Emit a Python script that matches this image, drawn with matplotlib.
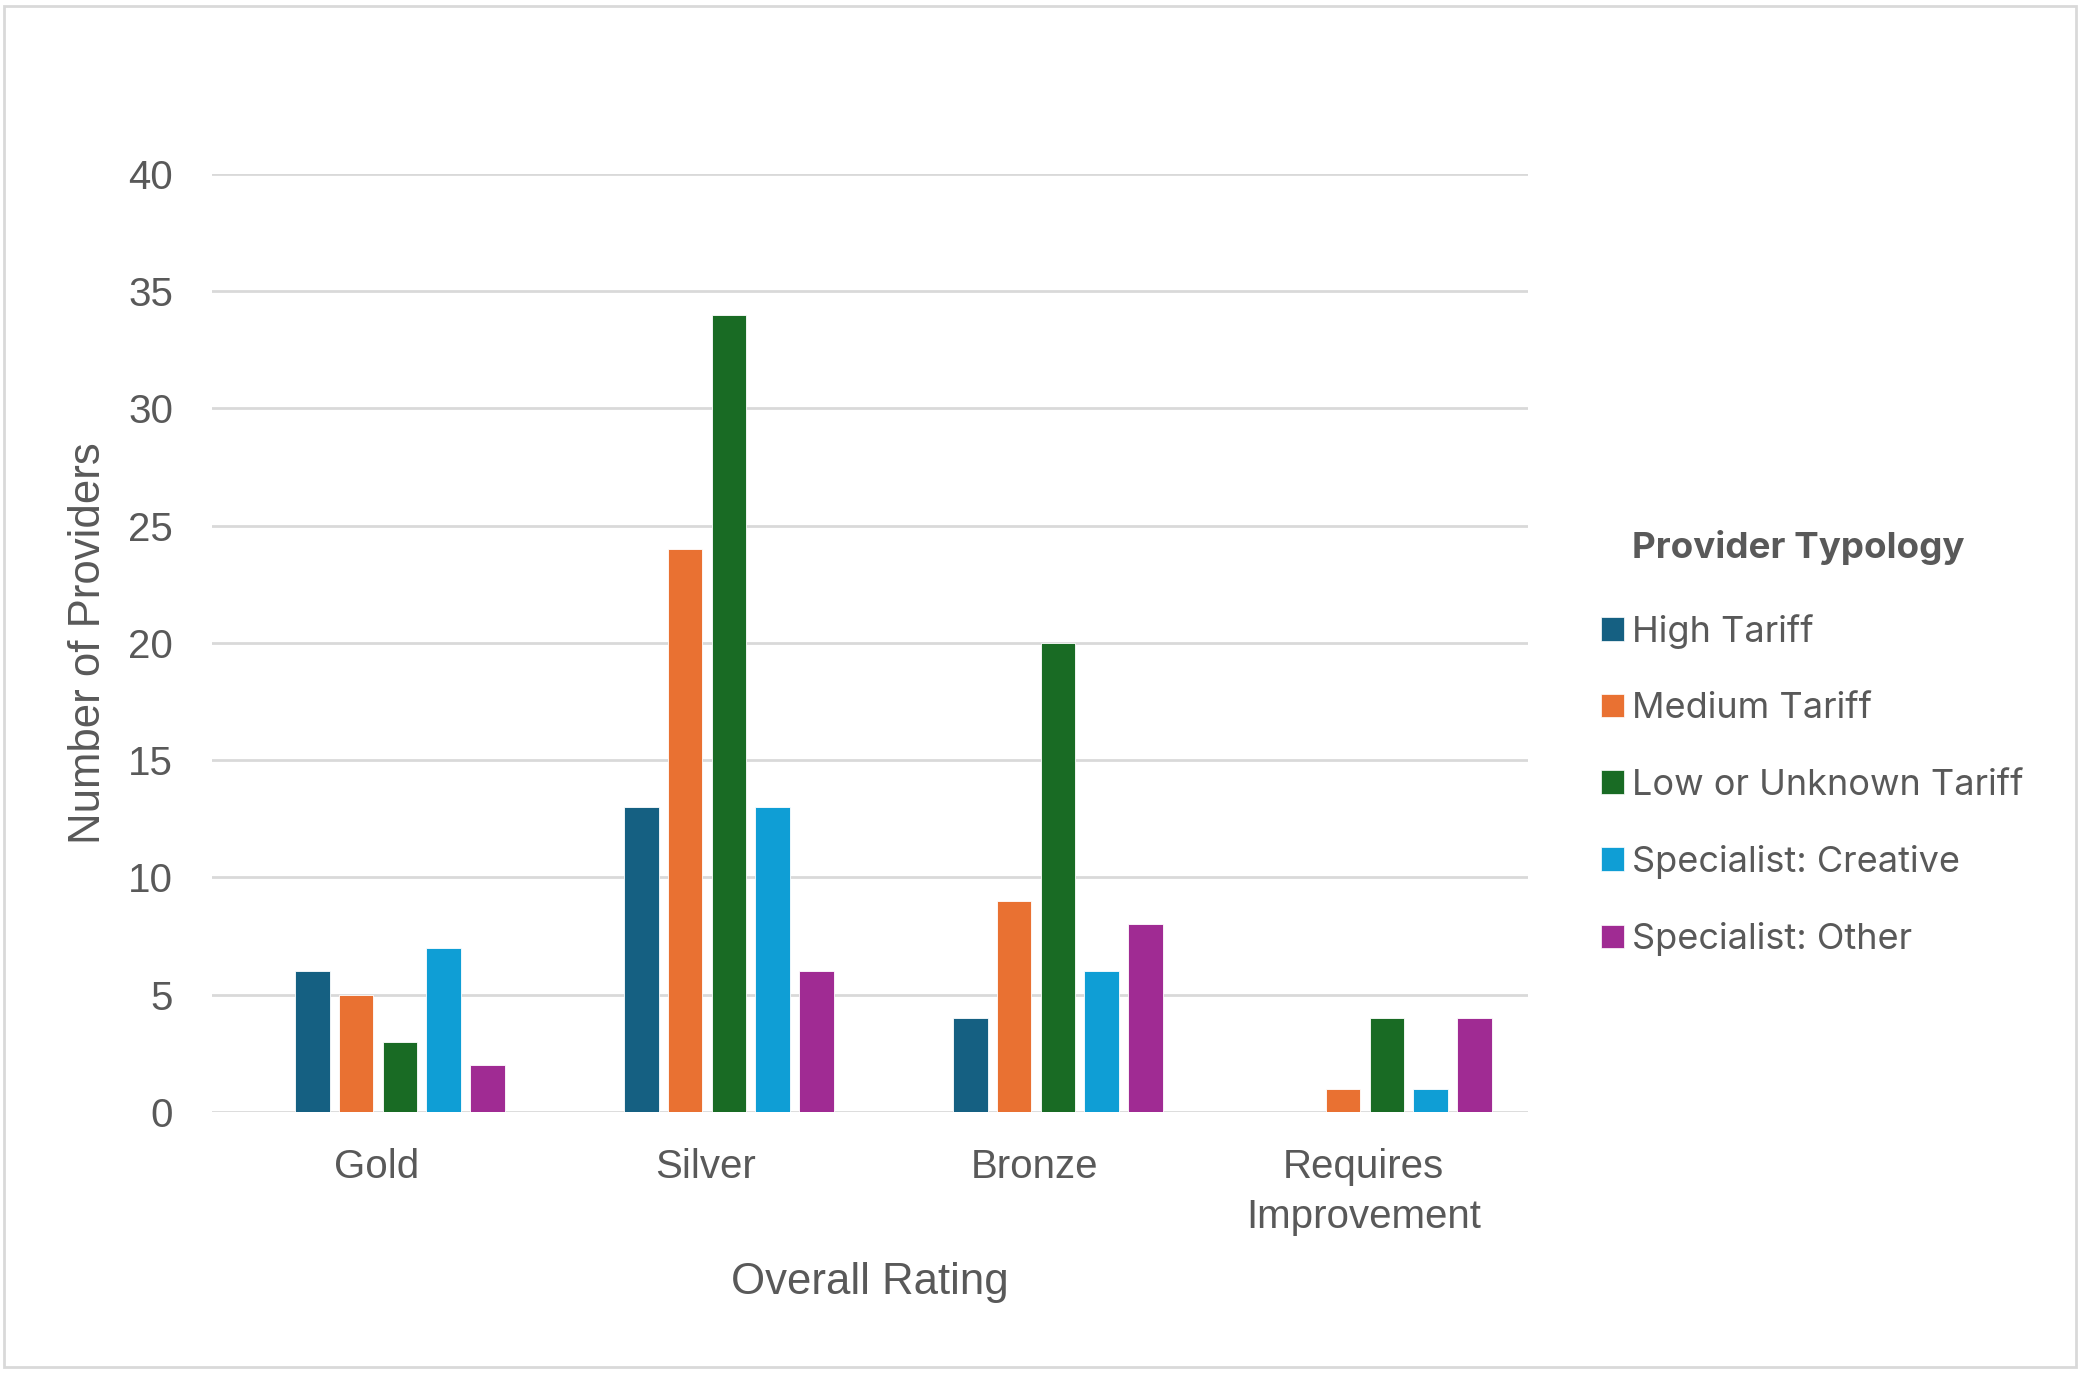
import numpy as np
import matplotlib
matplotlib.use("Agg")
import matplotlib.pyplot as plt
from matplotlib.patches import Patch, Rectangle

# chart data
categories = ["Gold", "Silver", "Bronze", "Requires\nImprovement"]
series_names = ["High Tariff", "Medium Tariff", "Low or Unknown Tariff",
                "Specialist: Creative", "Specialist: Other"]
high_tariff = [6, 13, 4, 0]
medium_tariff = [5, 24, 9, 1]
low_tariff = [3, 34, 20, 4]
creative = [7, 13, 6, 1]
other = [2, 6, 8, 4]
y_ticks = [0, 5, 10, 15, 20, 25, 30, 35, 40]

colors = ["#156082", "#E97132", "#196B24", "#0F9ED5", "#A02B93"]
text_col = "#595959"
grid_col = "#D9D9D9"

fig = plt.figure(figsize=(20.8, 13.75), dpi=100)
ax = fig.add_axes([0.1019, 0.1913, 0.6327, 0.6822])

all_series = [high_tariff, medium_tariff, low_tariff, creative, other]
x = np.arange(len(categories))
step = 0.133
width = 0.105
for i, vals in enumerate(all_series):
    ax.bar(x + (i - 2) * step + 0.071, vals, width=width, color=colors[i],
           edgecolor="white", linewidth=0.6, zorder=3, label=series_names[i])

ax.set_xlim(-0.5, 3.5)
ax.set_ylim(0, 40)
ax.set_yticks(y_ticks)
ax.set_xticks(x)
ax.set_xticklabels(categories, fontsize=29, color=text_col,
                   family="Liberation Sans", linespacing=1.4)
ax.tick_params(axis="both", length=0)
ax.tick_params(axis="x", pad=26)
ax.tick_params(axis="y", pad=28)
for lab in ax.get_yticklabels():
    lab.set_fontsize(29)
    lab.set_color(text_col)
    lab.set_family("Liberation Sans")

ax.grid(axis="y", color=grid_col, linewidth=2, zorder=0)
for s in ax.spines.values():
    s.set_visible(False)

ax.set_ylabel("Number of Providers", fontsize=31.5, color=text_col,
              family="Liberation Sans", labelpad=14)
ax.set_xlabel("Overall Rating", fontsize=31.5, color=text_col,
              family="Liberation Sans", labelpad=19)

# legend, title drawn separately so it lines up with the text
handles = [Patch(facecolor=c, edgecolor="white", linewidth=0.5) for c in colors]
leg = fig.legend(handles, series_names, loc="center left",
                 bbox_to_anchor=(0.763, 0.429), frameon=False,
                 prop={"family": "Inter", "size": 26},
                 handlelength=0.62, handleheight=0.62, handletextpad=0.22,
                 labelspacing=1.2, borderaxespad=0)
for t in leg.get_texts():
    t.set_color(text_col)
fig.text(0.7846, 0.6015, "Provider Typology", fontsize=26.5, fontweight="bold",
         color=text_col, family="Inter", va="center", ha="left")

# outer chart border
fig.patches.append(Rectangle((0.002, 0.006), 0.996, 0.99, transform=fig.transFigure,
                             fill=False, edgecolor=grid_col, linewidth=2))

fig.savefig("out.png", dpi=100)
